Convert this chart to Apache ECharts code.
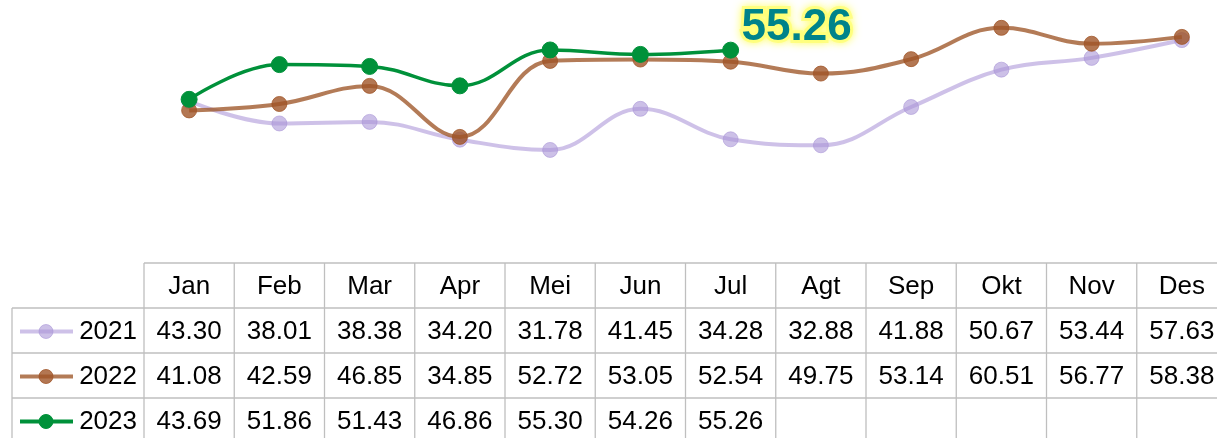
<!DOCTYPE html>
<html>
<head>
<meta charset="utf-8">
<script src="https://cdn.jsdelivr.net/npm/echarts@6/dist/echarts.min.js"></script>
<style>
  html, body { margin: 0; padding: 0; background: #fff; }
  #chart { width: 1217px; height: 438px; }
</style>
</head>
<body>
<div id="chart"></div>
<script>
const months = ['Jan', 'Feb', 'Mar', 'Apr', 'Mei', 'Jun', 'Jul', 'Agt', 'Sep', 'Okt', 'Nov', 'Des'];
const years = ['2021', '2022', '2023'];
const data2021 = [43.30, 38.01, 38.38, 34.20, 31.78, 41.45, 34.28, 32.88, 41.88, 50.67, 53.44, 57.63];
const data2022 = [41.08, 42.59, 46.85, 34.85, 52.72, 53.05, 52.54, 49.75, 53.14, 60.51, 56.77, 58.38];
const data2023 = [43.69, 51.86, 51.43, 46.86, 55.30, 54.26, 55.26];

const lineColors = ['rgba(180,160,220,0.65)', 'rgba(160,90,45,0.8)', '#00913a'];
const dotColors = ['rgba(170,150,215,0.6)', 'rgba(160,85,40,0.8)', '#00913a'];
const allData = [data2021, data2022, data2023];

const font = '"Liberation Sans", "Noto Sans", sans-serif';
const gridLine = '#bfbfbf';

const chart = echarts.init(document.getElementById('chart'));

const colW = 1083 / 12;
const gridLeft = 144;
const tableTop = 263;
const rowH = 45;

function buildSeries() {
    return allData.map((d, i) => {
        const s = {
            name: years[i],
            type: 'line',
            data: d,
            smooth: 0.4,
            symbol: 'circle',
            symbolSize: i === 2 ? 16 : 15,
            lineStyle: { color: lineColors[i], width: i === 2 ? 3.5 : 4 },
            itemStyle: { color: dotColors[i], borderColor: dotColors[i], borderWidth: 1 },
            z: 2 + i
        };
        if (i === 2) {
            s.data = d.map((v, j) => j === d.length - 1 ? {
                value: v,
                label: {
                    show: true,
                    position: 'top',
                    offset: [66, 13],
                    formatter: '{c}',
                    color: '#00838a',
                    fontSize: 44,
                    fontWeight: 'bold',
                    fontFamily: font,
                    textBorderColor: 'rgba(255,255,130,0.9)',
                    textBorderWidth: 6,
                    textShadowColor: 'rgba(255,255,100,0.9)',
                    textShadowBlur: 8
                }
            } : v);
        }
        return s;
    });
}

chart.setOption({
    animation: false,
    grid: { left: gridLeft, top: 8.75, width: 1083, height: 191.25, containLabel: false, outerBoundsMode: 'none' },
    xAxis: {
        type: 'category',
        data: months,
        boundaryGap: true,
        axisLine: { show: false },
        axisTick: { show: false },
        axisLabel: { show: false },
        splitLine: { show: false }
    },
    yAxis: {
        type: 'value',
        min: 20,
        max: 65,
        show: false,
        splitLine: { show: false }
    },
    series: buildSeries()
});

// data table under the plot
const els = [];
const tableRight = gridLeft + colW * 12;
const bottom = tableTop + rowH * 4;
const txt = (x, y, s, align) => ({
    type: 'text', x: x, y: y,
    style: { text: s, fill: '#000', font: '26px ' + font, textAlign: align || 'center', textVerticalAlign: 'middle' }
});
const ln = (x1, y1, x2, y2) => ({
    type: 'line', shape: { x1: x1, y1: y1, x2: x2, y2: y2 },
    style: { stroke: gridLine, lineWidth: 1.3 }
});

// horizontal lines
els.push(ln(gridLeft, tableTop, tableRight, tableTop));
for (let r = 1; r <= 3; r++) {
    els.push(ln(12, tableTop + rowH * r, tableRight, tableTop + rowH * r));
}
// vertical lines
els.push(ln(12, tableTop + rowH, 12, bottom));
for (let c = 0; c <= 12; c++) {
    const x = gridLeft + colW * c;
    els.push(ln(x, tableTop, x, bottom));
}
// header
months.forEach((m, i) => {
    const cx = chart.convertToPixel({ xAxisIndex: 0 }, m);
    els.push(txt(cx, tableTop + rowH / 2 + 1, m));
});
// rows
allData.forEach((d, r) => {
    const cy = tableTop + rowH * (r + 1) + rowH / 2 + 1;
    els.push({ type: 'line', shape: { x1: 20, y1: cy, x2: 73, y2: cy }, style: { stroke: lineColors[r], lineWidth: 4 } });
    els.push({ type: 'circle', shape: { cx: 46, cy: cy, r: 7 }, style: { fill: dotColors[r], stroke: dotColors[r] } });
    els.push(txt(137, cy, years[r], 'right'));
    d.forEach((v, j) => {
        const cx = chart.convertToPixel({ xAxisIndex: 0 }, months[j]);
        els.push(txt(cx, cy, v.toFixed(2)));
    });
});

chart.setOption({ graphic: { elements: els } });
</script>
</body>
</html>
